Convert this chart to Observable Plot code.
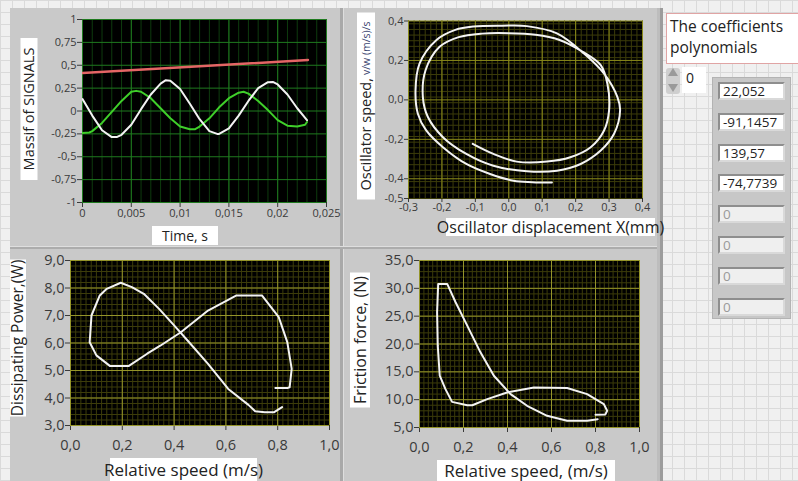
<!DOCTYPE html>
<html><head><meta charset="utf-8">
<script src="https://cdn.jsdelivr.net/npm/d3@7"></script>
<script src="https://cdn.jsdelivr.net/npm/@observablehq/plot@0.6"></script>
<style>
body{margin:0;}
#root{position:relative;width:798px;height:481px;overflow:hidden;font-family:"Open Sans",sans-serif;
 background-color:#f0f0f0;
 background-image:linear-gradient(#dadada 1px,transparent 1px),linear-gradient(90deg,#dadada 1px,transparent 1px);
 background-size:12px 12px;}
.abs{position:absolute;}
.lbl{position:absolute;background:#fff;color:#222;white-space:nowrap;display:flex;align-items:center;justify-content:center;line-height:1;}
.vl{transform:translate(-50%,-50%) rotate(-90deg);}
.cell{position:absolute;left:718px;width:60px;height:14px;border-style:solid;border-width:2px;border-color:#8e8e8e #d9d9d9 #d9d9d9 #8e8e8e;font-size:13.5px;line-height:14px;padding-left:3px;}
</style></head>
<body><div id="root"></div>
<script>
// ---------- DATA ----------
// Plot 1: Massif of SIGNALS vs Time
const whiteT = [0,0.001,0.002,0.003,0.0035,0.004,0.005,0.006,0.007,0.008,0.0085,0.009,0.010,0.011,0.012,0.013,0.0138,0.014,0.015,0.016,0.017,0.018,0.019,0.0195,0.020,0.021,0.022,0.023];
const whiteV = [0.13,-0.05,-0.21,-0.285,-0.285,-0.26,-0.15,0.02,0.18,0.30,0.335,0.33,0.24,0.08,-0.09,-0.22,-0.25,-0.25,-0.19,-0.05,0.11,0.25,0.315,0.318,0.29,0.18,0.03,-0.10];
const greenT = [0,0.0007,0.001,0.002,0.003,0.004,0.005,0.0055,0.006,0.007,0.008,0.009,0.010,0.011,0.0115,0.012,0.013,0.014,0.015,0.016,0.0165,0.017,0.018,0.019,0.020,0.021,0.022,0.0228,0.023];
const greenV = [-0.24,-0.235,-0.22,-0.13,-0.01,0.11,0.21,0.22,0.21,0.14,0.03,-0.08,-0.17,-0.20,-0.20,-0.17,-0.08,0.04,0.14,0.20,0.21,0.19,0.11,0.01,-0.10,-0.16,-0.17,-0.15,-0.12];
const redT = [0,0.0231];
const redV = [0.415,0.557];
// Plot 2: phase portrait (path order: outer tail -> inner end)
const dispX = [0.129,0.07,0.014,-0.056,-0.127,-0.197,-0.247,-0.272,-0.279,-0.267,-0.217,-0.16,-0.106,-0.02,0.054,0.144,0.225,0.285,0.325,0.333,0.315,0.275,0.215,0.144,0.054,-0.046,-0.127,-0.197,-0.242,-0.257,-0.249,-0.207,-0.15,-0.08,0.0,0.08,0.15,0.22,0.275,0.295,0.3,0.285,0.245,0.184,0.114,0.024,-0.046,-0.108];
const speedV = [-0.419,-0.417,-0.41,-0.376,-0.325,-0.24,-0.155,-0.07,0.048,0.184,0.303,0.355,0.372,0.376,0.374,0.337,0.235,0.133,0.014,-0.053,-0.172,-0.257,-0.325,-0.359,-0.362,-0.334,-0.274,-0.189,-0.087,0.014,0.15,0.269,0.318,0.336,0.338,0.33,0.305,0.245,0.176,0.082,-0.053,-0.155,-0.24,-0.291,-0.313,-0.313,-0.274,-0.223];
// Plot 3: dissipating power vs relative speed
const spdP = [0.817,0.785,0.75,0.713,0.687,0.609,0.531,0.452,0.40,0.342,0.283,0.237,0.194,0.14,0.113,0.081,0.074,0.10,0.153,0.224,0.296,0.348,0.426,0.531,0.641,0.739,0.804,0.837,0.854,0.846,0.837,0.791];
const powW = [3.67,3.48,3.48,3.52,3.75,4.33,5.24,6.09,6.64,7.24,7.79,8.03,8.19,7.97,7.73,7.0,6.03,5.55,5.16,5.16,5.61,5.91,6.39,7.18,7.73,7.73,6.94,6.03,5.06,4.39,4.36,4.36];
// Plot 4: friction force vs relative speed
const spdF = [0.80,0.845,0.853,0.838,0.762,0.671,0.52,0.398,0.308,0.24,0.217,0.148,0.118,0.092,0.083,0.08,0.085,0.126,0.164,0.217,0.277,0.338,0.414,0.489,0.58,0.671,0.762,0.81];
const forceN = [7.3,7.35,8.0,9.2,11.0,12.1,12.2,11.3,10.1,9.0,9.0,9.6,11.9,14.3,19.7,25.7,30.8,30.8,27.5,23.3,18.5,14.3,11.0,8.9,7.1,6.2,6.2,6.5];
// Coefficients of polynomials
const coefValues = [22.052,-91.1457,139.57,-74.7739,0,0,0,0];
const coefIndex = 0;
// Tick labels
const ticks1X = [0,0.005,0.01,0.015,0.02,0.025];
const ticks1Y = [-1,-0.75,-0.5,-0.25,0,0.25,0.5,0.75,1];
const ticks2X = [-0.3,-0.2,-0.1,0.0,0.1,0.2,0.3,0.4];
const ticks2Y = [-0.5,-0.4,-0.2,0.0,0.2,0.4];
const ticks3X = [0,0.2,0.4,0.6,0.8,1.0];
const ticks3Y = [3,4,5,6,7,8,9];
const ticks4Y = [5,10,15,20,25,30,35];

// ---------- HELPERS ----------
const comma = d => String(d).replace(".", ",");
const fix1 = d => d.toFixed(1).replace(".", ",");
const zip = (xs, ys) => xs.map((x, i) => ({x, y: ys[i]}));
const rng = (a, b, s) => d3.range(0, Math.round((b - a) / s) + 1).map(i => a + i * s);

function chart(o) {
  const p = Plot.plot({
    width: o.w, height: o.h,
    marginLeft: o.ml, marginRight: o.mr, marginTop: o.mt, marginBottom: o.mb,
    style: {background: "transparent", color: "#3a3a3a", fontSize: o.fs + "px", fontFamily: "Open Sans"},
    x: {domain: o.xd, ticks: o.xt, tickFormat: o.xf, tickSize: o.ts, tickPadding: o.tpx, label: null},
    y: {domain: o.yd, ticks: o.yt, tickFormat: o.yf, tickSize: o.ts, tickPadding: 1, label: null},
    marks: [
      Plot.frame({fill: "#000"}),
      Plot.ruleX(o.xMinor, {stroke: o.minorC, strokeWidth: 1}),
      Plot.ruleY(o.yMinor, {stroke: o.minorC, strokeWidth: 1}),
      Plot.ruleX(o.xMajor, {stroke: o.majorC, strokeWidth: 1}),
      Plot.ruleY(o.yMajor, {stroke: o.majorC, strokeWidth: 1}),
      ...o.lines
    ]
  });
  p.style.position = "absolute";
  p.style.left = o.left + "px";
  p.style.top = o.top + "px";
  return p;
}

const root = document.getElementById("root");
function box(css, html, cls) {
  const d = document.createElement("div");
  d.className = cls || "abs";
  d.style.cssText = css;
  if (html !== undefined) d.innerHTML = html;
  root.appendChild(d);
  return d;
}

// ---------- PANELS ----------
box("left:10px;top:8px;width:652px;height:473px;background:#c9c9c9;");
box("left:340px;top:8px;width:3px;height:473px;background:#a9a9a9;");
box("left:343px;top:8px;width:1px;height:473px;background:#dedede;");
box("left:10px;top:246px;width:650px;height:1px;background:#dedede;");
box("left:10px;top:247px;width:650px;height:2px;background:#acacac;");
box("left:657px;top:8px;width:3px;height:473px;background:#bdbdbd;");
box("left:660px;top:8px;width:3px;height:473px;background:#9c9c9c;");

// ---------- CHARTS ----------
const line = (data, stroke, sw) => Plot.line(data, {x: "x", y: "y", stroke, strokeWidth: sw, strokeLinejoin: "round", clip: true});

root.appendChild(chart({
  left: 0, top: 0, w: 343, h: 245, ml: 82, mr: 17, mt: 19, mb: 43, fs: 11, ts: 5, tpx: 2,
  xd: [0, 0.025], yd: [-1, 1], xt: ticks1X, yt: ticks1Y, xf: comma, yf: comma,
  xMinor: rng(0, 0.025, 0.001), yMinor: [], xMajor: rng(0, 0.025, 0.005), yMajor: rng(-1, 1, 0.25),
  minorC: "#0e3b0e", majorC: "#1f7a1f",
  lines: [line(zip(redT, redV), "#e46565", 2.5), line(zip(greenT, greenV), "#3fcf2a", 2), line(zip(whiteT, whiteV), "#f3f3f3", 2)]
}));

root.appendChild(chart({
  left: 343, top: 0, w: 317, h: 245, ml: 65, mr: 18, mt: 20.5, mb: 47, fs: 11, ts: 4, tpx: 1,
  xd: [-0.3, 0.4], yd: [-0.5, 0.4], xt: ticks2X, yt: ticks2Y, xf: fix1, yf: fix1,
  xMinor: rng(-0.3, 0.4, 0.1 / 6), yMinor: rng(-0.5, 0.4, 0.2 / 7), xMajor: ticks2X, yMajor: [-0.4, -0.2, 0, 0.2, 0.4],
  minorC: "#3c3c0a", majorC: "#8a8a1a",
  lines: [Plot.line(zip(dispX, speedV), {x: "x", y: "y", stroke: "#f3f3f3", strokeWidth: 2, curve: "catmull-rom", clip: true})]
}));

root.appendChild(chart({
  left: 0, top: 248, w: 343, h: 233, ml: 70, mr: 14, mt: 12, mb: 56, fs: 14.5, ts: 5, tpx: 9,
  xd: [0, 1], yd: [3, 9], xt: ticks3X, yt: ticks3Y, xf: fix1, yf: fix1,
  xMinor: rng(0, 1, 0.02), yMinor: rng(3, 9, 0.2), xMajor: ticks3X, yMajor: ticks3Y,
  minorC: "#3c3c0a", majorC: "#94942a",
  lines: [line(zip(spdP, powW), "#f3f3f3", 2)]
}));

root.appendChild(chart({
  left: 343, top: 248, w: 317, h: 233, ml: 76, mr: 21, mt: 12, mb: 54, fs: 14.5, ts: 5, tpx: 9,
  xd: [0, 1], yd: [5, 35], xt: ticks3X, yt: ticks4Y, xf: fix1, yf: fix1,
  xMinor: rng(0, 1, 0.02), yMinor: rng(5, 35, 1), xMajor: ticks3X, yMajor: ticks4Y,
  minorC: "#3c3c0a", majorC: "#94942a",
  lines: [line(zip(spdF, forceN), "#f3f3f3", 2)]
}));

// ---------- AXIS TITLES ----------
function hlabel(x, y, w, h, text, fs) {
  box(`left:${x}px;top:${y}px;width:${w}px;height:${h}px;font-size:${fs}px;`, text, "lbl");
}
function vlabel(cx, cy, len, th, html, fs) {
  box(`left:${cx}px;top:${cy}px;width:${len}px;height:${th}px;font-size:${fs}px;`, html, "lbl vl");
}
vlabel(29, 109, 142, 17, "Massif of SIGNALS", 14.5);
hlabel(152, 226, 66, 19, "Time, s", 14);
vlabel(366, 106, 187, 18, 'Oscillator speed, <span style="font-size:10.5px;color:#3b4670;margin-left:3px">v/w (m/s)/s</span>', 14.5);
hlabel(446, 218, 209, 18, "Oscillator displacement X(mm)", 16);
vlabel(18, 338, 157, 16, "Dissipating Power,(W)", 15.5);
hlabel(110, 458, 147, 23, "Relative speed (m/s)", 17);
vlabel(360, 340, 135, 20, "Friction force, (N)", 16);
hlabel(437, 460, 178, 21, "Relative speed, (m/s)", 17);

// ---------- COEFFICIENTS PANEL ----------
box("left:666px;top:13px;width:150px;height:47px;background:#fff;border:1px solid #e0a4a4;font-size:15.5px;line-height:21px;color:#222;padding:2px 0 0 3px;white-space:nowrap;", "The coefficients<br>polynomials");
// index control
box("left:666px;top:68px;width:14px;height:26px;background:#cfcfcf;border-radius:3px;");
box("left:668px;top:68px;width:0;height:0;border-left:5px solid transparent;border-right:5px solid transparent;border-bottom:8px solid #9a9a9a;");
box("left:668px;top:84px;width:0;height:0;border-left:5px solid transparent;border-right:5px solid transparent;border-top:8px solid #9a9a9a;");
box("left:682px;top:67px;width:24px;height:26px;background:#fff;font-size:14px;line-height:22px;padding-left:4px;color:#222;box-sizing:border-box;", String(coefIndex));
// array column
box("left:712px;top:77px;width:79px;height:242px;background:#c7c7c7;border:1px solid #b3b3b3;box-sizing:border-box;");
const cellTops = [82, 113, 144, 174, 205, 236, 267, 298];
coefValues.forEach((v, i) => {
  const active = i < 4;
  box(`top:${cellTops[i]}px;background:${active ? "#fff" : "#efefef"};color:${active ? "#1e1e1e" : "#9a9a9a"};`, comma(v), "cell");
});
</script></body></html>
